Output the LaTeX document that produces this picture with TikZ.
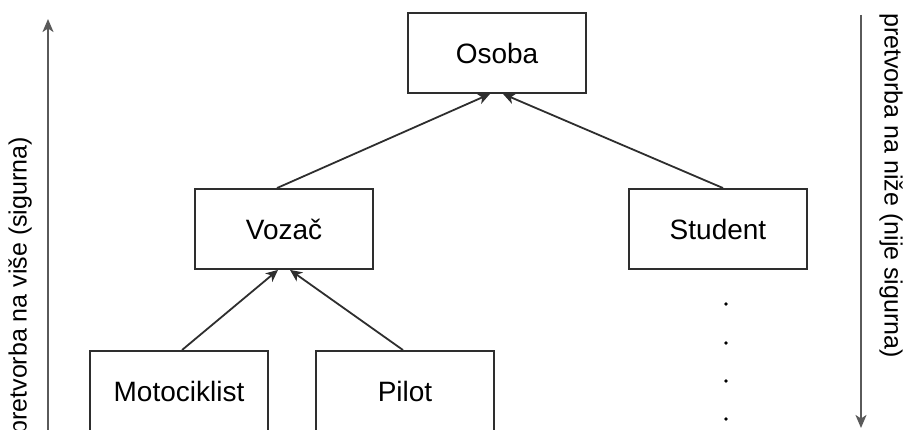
\documentclass[tikz,border=0pt]{standalone}
\usepackage{fontspec}
\setmainfont{Liberation Sans}
\usetikzlibrary{arrows.meta}
\definecolor{edge}{HTML}{2E2E2E}
\definecolor{axis}{HTML}{5A5A5A}
\begin{document}
\begin{tikzpicture}[x=1pt,y=-1pt,
  classbox/.style={draw=edge, line width=1.9pt, minimum width=178pt, minimum height=80pt,
    inner sep=0pt, font=\fontsize{28}{32}\selectfont},
  link/.style={draw=edge, line width=1.8pt, -{Stealth[length=12pt,width=11pt,inset=3.5pt]}},
  axisarrow/.style={draw=axis, line width=1.9pt, -{Stealth[length=13pt,width=11pt,inset=3.5pt]}},
  sidelabel/.style={inner sep=0pt, font=\fontsize{25}{28}\selectfont}]
  \useasboundingbox (0,0) rectangle (906,430);

  % class boxes
  \node[classbox] (osoba) at (497,53) {Osoba};
  \node[classbox] (vozac) at (284,229) {Vozač};
  \node[classbox] (student) at (718,229) {Student};
  \node[classbox] (moto) at (179,391) {Motociklist};
  \node[classbox] (pilot) at (405,391) {Pilot};

  % inheritance links
  \draw[link] ([xshift=-7pt]vozac.north) -- ([xshift=-7pt]osoba.south);
  \draw[link] ([xshift=5pt]student.north) -- ([xshift=6pt]osoba.south);
  \draw[link] ([xshift=3pt]moto.north) -- ([xshift=-6pt]vozac.south);
  \draw[link] ([xshift=-2pt]pilot.north) -- ([xshift=6pt]vozac.south);

  % further subclasses of Student
  \foreach \y in {304,343,381,419}
    \fill[black] (726,\y) circle (1.8pt);

  % direction axes
  \coordinate (upfoot) at (48,432);
  \coordinate (uphead) at (48,19);
  \coordinate (downfoot) at (861,15);
  \coordinate (downhead) at (861,428);
  \draw[axisarrow] (upfoot) -- (uphead);
  \draw[axisarrow] (downfoot) -- (downhead);

  \node[sidelabel, rotate=90, anchor=east] (uplabel) at (20,137) {pretvorba na više (sigurna)};
  \node[sidelabel, rotate=-90, anchor=west] (downlabel) at (891,13) {pretvorba na niže (nije sigurna)};
\end{tikzpicture}
\end{document}
